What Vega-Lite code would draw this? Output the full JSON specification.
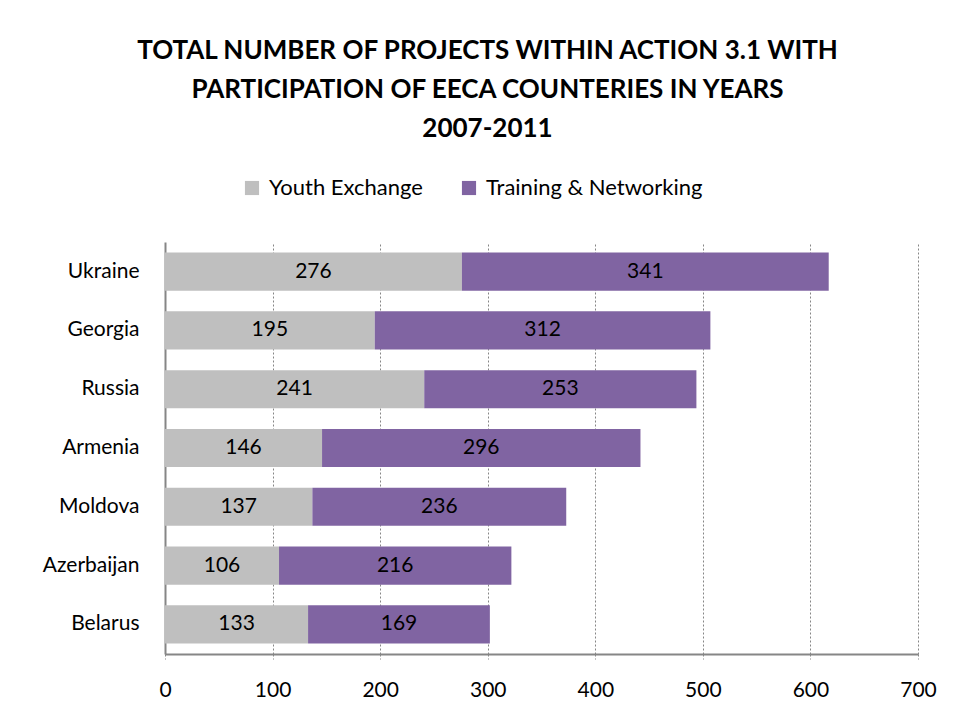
{
  "$schema": "https://vega.github.io/schema/vega-lite/v6.json",
  "width": 753,
  "height": 412,
  "autosize": {"type": "none"},
  "padding": {"left": 165, "top": 242, "right": 37, "bottom": 62},
  "background": "white",
  "title": {
    "text": ["TOTAL NUMBER OF PROJECTS WITHIN ACTION 3.1 WITH", "PARTICIPATION OF EECA COUNTERIES IN YEARS", "2007-2011"],
    "font": "Lato",
    "fontSize": 26,
    "fontWeight": "bold",
    "color": "black",
    "lineHeight": 39,
    "anchor": "middle",
    "dx": -54,
    "offset": 35
  },
  "data": {
    "values": [
      {"country": "Ukraine", "type": "Youth Exchange", "value": 276},
      {"country": "Ukraine", "type": "Training & Networking", "value": 341},
      {"country": "Georgia", "type": "Youth Exchange", "value": 195},
      {"country": "Georgia", "type": "Training & Networking", "value": 312},
      {"country": "Russia", "type": "Youth Exchange", "value": 241},
      {"country": "Russia", "type": "Training & Networking", "value": 253},
      {"country": "Armenia", "type": "Youth Exchange", "value": 146},
      {"country": "Armenia", "type": "Training & Networking", "value": 296},
      {"country": "Moldova", "type": "Youth Exchange", "value": 137},
      {"country": "Moldova", "type": "Training & Networking", "value": 236},
      {"country": "Azerbaijan", "type": "Youth Exchange", "value": 106},
      {"country": "Azerbaijan", "type": "Training & Networking", "value": 216},
      {"country": "Belarus", "type": "Youth Exchange", "value": 133},
      {"country": "Belarus", "type": "Training & Networking", "value": 169}
    ]
  },
  "transform": [
    {"stack": "value", "groupby": ["country"], "sort": [{"field": "type", "order": "descending"}], "as": ["x0", "x1"]},
    {"calculate": "(datum.x0 + datum.x1) / 2", "as": "mid"}
  ],
  "encoding": {
    "y": {
      "field": "country",
      "type": "nominal",
      "sort": ["Ukraine", "Georgia", "Russia", "Armenia", "Moldova", "Azerbaijan", "Belarus"],
      "scale": {"paddingInner": 0.35, "paddingOuter": 0.18},
      "axis": {
        "title": null,
        "ticks": false,
        "domainColor": "#868686",
        "domainWidth": 2,
        "labelFont": "Lato",
        "labelFontSize": 21,
        "labelColor": "black",
        "labelPadding": 26
      }
    }
  },
  "layer": [
    {
      "mark": {"type": "bar"},
      "encoding": {
        "x": {
          "field": "x0",
          "type": "quantitative",
          "scale": {"domain": [0, 700]},
          "axis": {
            "title": null,
            "values": [0, 100, 200, 300, 400, 500, 600, 700],
            "grid": true,
            "gridDash": [2, 2],
            "gridColor": "#868686",
            "domainColor": "#868686",
            "domainWidth": 2,
            "tickColor": "#868686",
            "tickDash": [2, 2],
            "tickSize": 5,
            "labelFont": "Lato",
            "labelFontSize": 21,
            "labelColor": "black",
            "labelPadding": 20,
            "labelFlush": false
          }
        },
        "x2": {"field": "x1"},
        "color": {
          "field": "type",
          "type": "nominal",
          "scale": {"domain": ["Youth Exchange", "Training & Networking"], "range": ["#BFBFBF", "#8064A2"]},
          "legend": {
            "title": null,
            "orient": "none",
            "direction": "horizontal",
            "legendX": 76,
            "legendY": -65,
            "symbolType": "square",
            "symbolSize": 200,
            "symbolStrokeWidth": 0,
            "labelFont": "Lato",
            "labelFontSize": 22,
            "labelColor": "black",
            "labelLimit": 0,
            "columnPadding": 35,
            "labelOffset": 6
          }
        }
      }
    },
    {
      "mark": {"type": "text", "font": "Lato", "fontSize": 21, "color": "black", "baseline": "middle", "align": "center"},
      "encoding": {
        "x": {"field": "mid", "type": "quantitative"},
        "text": {"field": "value", "type": "quantitative"}
      }
    }
  ],
  "config": {"view": {"stroke": null}}
}
